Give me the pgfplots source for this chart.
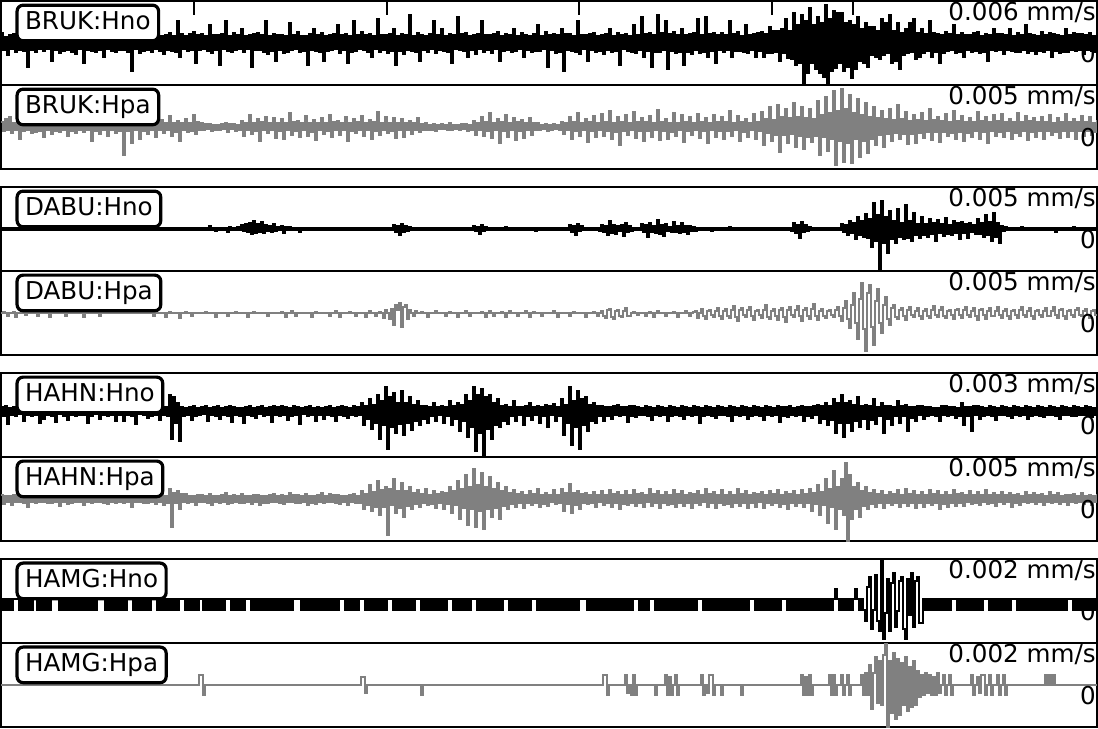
\documentclass[border=0pt]{standalone}
\usepackage{pgfplots}
\pgfplotsset{compat=1.18}
\usepackage{fontspec}
\setmainfont{DejaVu Sans}
\pgfplotsset{
 panel/.style={scale only axis, width=548pt, height=42pt, xmin=0, xmax=1096, ymin=-42, ymax=42,
   xtick=\empty, ytick=\empty, axis line style={line width=1.1pt, black}, clip mode=individual, anchor=north west},
 blk/.style={black, line width=0.75pt, line join=miter, const plot, mark=none},
 gry/.style={gray, line width=0.75pt, line join=miter, const plot, mark=none},
}
\tikzset{
 lbl/.style={anchor=north west, xshift=7.2pt, yshift=-1.2pt, draw=black, line width=1.6pt, rounded corners=3pt,
   fill=white, inner xsep=4pt, inner ysep=2.8pt, text height=9.3pt, text depth=2.9pt, font=\fontsize{12.3}{14}\selectfont},
 amp/.style={anchor=base east, inner sep=0pt, xshift=-0.4pt, yshift=-9.5pt, font=\fontsize{12.3}{14}\selectfont},
}
\begin{document}
\begin{tikzpicture}
% ---------- BRUK:Hno ----------
\begin{axis}[panel, at={(0pt,0pt)}, xtick={193,386,578,771,852}, xticklabels={}, x tick label style={overlay, inner sep=0pt},
  xtick pos=right, tick align=inside, major tick length=7pt, tick style={line width=1.2pt, black}]
\addplot[blk] table[header=false,row sep=\\,x expr=\coordindex*2,y index=0] {
10\\-7\\6\\-12\\8\\-6\\9\\-9\\22\\-7\\7\\-8\\9\\-24\\8\\-7\\6\\-9\\8\\-6\\
12\\-8\\7\\-6\\7\\-18\\9\\-7\\6\\-10\\20\\-8\\7\\-7\\6\\-9\\8\\-11\\7\\-6\\
8\\-20\\11\\-7\\6\\-8\\26\\-9\\7\\-7\\9\\-14\\8\\-6\\10\\-8\\7\\-9\\8\\-7\\
18\\-7\\8\\-9\\9\\-28\\8\\-6\\7\\-10\\14\\-8\\6\\-7\\24\\-9\\8\\-6\\9\\-8\\
7\\-11\\8\\-7\\10\\-8\\7\\-9\\22\\-14\\9\\-6\\7\\-8\\9\\-7\\11\\-20\\8\\-7\\
9\\-6\\7\\-8\\18\\-10\\8\\-7\\8\\-22\\9\\-6\\22\\-8\\7\\-9\\10\\-7\\8\\-6\\
14\\-9\\7\\-6\\8\\-24\\9\\-7\\10\\-7\\8\\-9\\22\\-11\\7\\-8\\9\\-18\\8\\-7\\
8\\-10\\7\\-9\\20\\-7\\8\\-6\\11\\-9\\7\\-8\\7\\-22\\9\\-7\\14\\-8\\8\\-9\\
10\\-18\\7\\-8\\8\\-7\\9\\-6\\18\\-10\\8\\-7\\9\\-20\\7\\-9\\22\\-8\\8\\-6\\
11\\-7\\8\\-9\\9\\-14\\7\\-6\\24\\-9\\8\\-7\\8\\-10\\9\\-8\\14\\-22\\7\\-8\\
9\\-11\\8\\-7\\28\\-8\\7\\-9\\10\\-18\\8\\-7\\7\\-9\\9\\-6\\22\\-10\\8\\-7\\
14\\-8\\7\\-9\\9\\-20\\8\\-6\\26\\-7\\9\\-8\\10\\-14\\7\\-7\\8\\-11\\9\\-6\\
22\\-9\\8\\-7\\8\\-10\\9\\-6\\11\\-18\\7\\-8\\9\\-7\\8\\-9\\14\\-8\\7\\-6\\
10\\-14\\8\\-7\\7\\-9\\9\\-8\\18\\-8\\7\\-6\\11\\-24\\8\\-7\\9\\-10\\8\\-9\\
14\\-28\\9\\-7\\9\\-8\\7\\-9\\22\\-11\\8\\-6\\8\\-18\\9\\-7\\10\\-9\\7\\-8\\
8\\-11\\9\\-7\\14\\-9\\7\\-8\\10\\-22\\8\\-6\\9\\-8\\7\\-9\\18\\-10\\8\\-7\\
26\\-14\\9\\-8\\10\\-24\\8\\-9\\28\\-9\\10\\-7\\22\\-26\\9\\-8\\11\\-10\\8\\-9\\
14\\-22\\8\\-9\\9\\-11\\10\\-7\\24\\-10\\8\\-9\\26\\-14\\9\\-8\\10\\-20\\8\\-7\\
10\\-9\\8\\-7\\22\\-14\\9\\-8\\11\\-8\\7\\-9\\18\\-10\\8\\-7\\9\\-14\\10\\-8\\
11\\-14\\9\\-10\\16\\-10\\12\\-9\\12\\-18\\14\\-10\\24\\-15\\12\\-16\\30\\-22\\18\\-20\\
28\\-40\\22\\-30\\35\\-20\\18\\-26\\26\\-30\\20\\-34\\38\\-42\\24\\-28\\32\\-25\\30\\-20\\
30\\-28\\20\\-24\\22\\-35\\18\\-26\\26\\-18\\14\\-20\\20\\-24\\16\\-12\\16\\-14\\12\\-16\\
24\\-12\\20\\-10\\28\\-20\\12\\-18\\20\\-26\\10\\-12\\14\\-10\\20\\-9\\24\\-16\\10\\-14\\
14\\-10\\9\\-8\\22\\-14\\10\\-9\\9\\-20\\8\\-10\\11\\-8\\9\\-7\\18\\-10\\8\\-9\\
10\\-14\\8\\-7\\8\\-9\\10\\-8\\11\\-10\\7\\-9\\9\\-18\\8\\-7\\14\\-8\\9\\-7\\
9\\-11\\8\\-7\\14\\-8\\7\\-9\\10\\-9\\8\\-7\\18\\-10\\9\\-8\\8\\-11\\7\\-8\\
11\\-9\\8\\-7\\10\\-14\\9\\-8\\8\\-10\\7\\-9\\14\\-9\\8\\-7\\10\\-8\\9\\-7\\
9\\-11\\8\\-7\\10\\-8\\7\\-9\\9\\
};
\node[lbl] at (rel axis cs:0,1) {BRUK:Hno};
\node[amp] at (rel axis cs:1,1) {0.006 mm/s};
\node[amp] at (rel axis cs:1,0.5) {0};
\end{axis}
% ---------- BRUK:Hpa ----------
\begin{axis}[panel, at={(0pt,-42pt)}]
\addplot[gry] table[header=false,row sep=\\,x expr=\coordindex*2,y index=0] {
5\\-4\\8\\-3\\10\\-6\\4\\-3\\4\\-12\\7\\-4\\5\\-3\\9\\-6\\4\\-5\\3\\-4\\
6\\-10\\4\\-3\\4\\-7\\5\\-4\\12\\-5\\4\\-3\\8\\-9\\5\\-4\\3\\-6\\4\\-3\\
8\\-5\\4\\-3\\6\\-14\\5\\-4\\10\\-7\\4\\-3\\5\\-9\\4\\-3\\7\\-6\\4\\-4\\
10\\-28\\5\\-4\\8\\-16\\4\\-3\\6\\-12\\5\\-4\\9\\-7\\4\\-3\\5\\-10\\4\\-3\\
7\\-6\\4\\-3\\11\\-9\\4\\-5\\6\\-14\\4\\-3\\8\\-5\\4\\-4\\12\\-7\\5\\-3\\
4\\-3\\3\\-2\\3\\-4\\2\\-3\\2\\-3\\3\\-2\\4\\-5\\3\\-2\\3\\-4\\2\\-3\\
6\\-9\\4\\-3\\12\\-7\\4\\-4\\8\\-14\\5\\-3\\10\\-6\\4\\-3\\9\\-11\\4\\-4\\
8\\-12\\4\\-3\\14\\-8\\5\\-4\\6\\-10\\4\\-3\\11\\-9\\4\\-5\\7\\-13\\4\\-3\\
9\\-7\\4\\-4\\12\\-10\\5\\-3\\6\\-8\\4\\-3\\10\\-14\\4\\-4\\8\\-6\\5\\-3\\
11\\-9\\4\\-3\\7\\-12\\5\\-4\\15\\-8\\4\\-3\\10\\-6\\4\\-4\\9\\-11\\4\\-3\\
8\\-10\\4\\-3\\6\\-7\\4\\-3\\9\\-5\\3\\-3\\4\\-3\\2\\-3\\3\\-4\\2\\-2\\
3\\-2\\2\\-3\\4\\-3\\2\\-2\\2\\-3\\3\\-2\\3\\-4\\2\\-3\\6\\-8\\4\\-3\\
10\\-9\\5\\-4\\14\\-11\\4\\-3\\8\\-16\\5\\-4\\12\\-10\\4\\-3\\9\\-13\\5\\-4\\
7\\-11\\4\\-3\\9\\-8\\4\\-3\\4\\-3\\2\\-2\\3\\-4\\2\\-3\\3\\-2\\2\\-3\\
5\\-7\\4\\-3\\10\\-12\\5\\-4\\14\\-9\\4\\-3\\8\\-15\\5\\-4\\11\\-10\\4\\-3\\
13\\-9\\5\\-4\\16\\-12\\4\\-5\\10\\-18\\5\\-4\\12\\-8\\4\\-3\\15\\-11\\5\\-4\\
9\\-14\\5\\-4\\11\\-10\\4\\-3\\17\\-13\\5\\-4\\8\\-12\\4\\-5\\14\\-9\\4\\-3\\
12\\-15\\5\\-4\\10\\-8\\4\\-3\\13\\-11\\5\\-4\\9\\-16\\4\\-3\\12\\-10\\5\\-4\\
10\\-12\\5\\-4\\16\\-9\\4\\-3\\11\\-14\\5\\-5\\8\\-10\\4\\-3\\13\\-12\\5\\-4\\
15\\-18\\8\\-6\\20\\-14\\7\\-8\\22\\-25\\10\\-8\\18\\-16\\9\\-7\\24\\-20\\10\\-9\\
20\\-22\\9\\-10\\18\\-15\\8\\-9\\26\\-28\\12\\-10\\30\\-24\\14\\-12\\36\\-38\\16\\-14\\
38\\-35\\18\\-16\\32\\-36\\14\\-12\\28\\-30\\12\\-14\\24\\-26\\10\\-12\\20\\-18\\9\\-8\\
16\\-20\\8\\-7\\18\\-14\\7\\-6\\22\\-12\\8\\-7\\15\\-17\\6\\-7\\12\\-16\\7\\-6\\
14\\-11\\6\\-5\\18\\-13\\7\\-5\\10\\-15\\6\\-5\\13\\-9\\5\\-6\\16\\-12\\6\\-5\\
11\\-14\\5\\-6\\9\\-10\\5\\-4\\15\\-12\\6\\-5\\10\\-16\\5\\-4\\12\\-9\\6\\-5\\
13\\-10\\5\\-4\\8\\-12\\5\\-6\\14\\-9\\5\\-4\\11\\-13\\6\\-5\\9\\-10\\5\\-4\\
10\\-12\\5\\-4\\12\\-8\\4\\-5\\9\\-11\\5\\-4\\13\\-10\\5\\-4\\8\\-12\\5\\-4\\
11\\-9\\5\\-4\\10\\-8\\4\\-5\\7\\
};
\node[lbl] at (rel axis cs:0,1) {BRUK:Hpa};
\node[amp] at (rel axis cs:1,1) {0.005 mm/s};
\node[amp] at (rel axis cs:1,0.5) {0};
\end{axis}
% ---------- DABU:Hno ----------
\begin{axis}[panel, at={(0pt,-93pt)}]
\addplot[blk] table[header=false,row sep=\\,x expr=\coordindex*2,y index=0] {
1\\-1\\1\\-1\\1\\-1\\1\\-1\\1\\-1\\1\\-1\\1\\-1\\1\\-1\\1\\-1\\1\\-1\\
1\\-1\\1\\-1\\1\\-1\\1\\-1\\1\\-1\\1\\-1\\1\\-1\\1\\-1\\1\\-1\\1\\-1\\
1\\-1\\1\\-1\\1\\-1\\1\\-1\\1\\-1\\1\\-1\\1\\-1\\1\\-1\\1\\-1\\1\\-1\\
1\\-1\\1\\-1\\1\\-1\\1\\-1\\1\\-1\\1\\-1\\1\\-1\\1\\-1\\1\\-1\\1\\-1\\
1\\-1\\1\\-1\\1\\-1\\1\\-1\\1\\-1\\1\\-1\\1\\-1\\1\\-1\\1\\-1\\1\\-1\\
1\\-1\\1\\-1\\3\\-1\\1\\-2\\1\\-1\\1\\-1\\1\\-3\\2\\-1\\1\\-1\\2\\-1\\
4\\-2\\5\\-3\\6\\-5\\8\\-4\\5\\-3\\7\\-4\\4\\-2\\3\\-3\\5\\-2\\2\\-1\\
3\\-4\\2\\-1\\2\\-1\\1\\-1\\1\\-3\\1\\-1\\1\\-1\\1\\-1\\1\\-1\\1\\-1\\
1\\-1\\1\\-1\\1\\-1\\1\\-1\\1\\-1\\1\\-1\\1\\-1\\1\\-1\\1\\-1\\1\\-1\\
1\\-1\\1\\-1\\1\\-1\\1\\-1\\1\\-1\\1\\-1\\1\\-1\\1\\-1\\4\\-3\\3\\-6\\
5\\-3\\3\\-2\\2\\-1\\1\\-1\\1\\-1\\1\\-1\\1\\-1\\1\\-1\\1\\-1\\1\\-1\\
1\\-1\\1\\-1\\1\\-1\\1\\-1\\1\\-1\\1\\-1\\1\\-1\\1\\-1\\3\\-2\\2\\-5\\
4\\-2\\2\\-1\\1\\-1\\1\\-1\\1\\-1\\1\\-1\\2\\-1\\1\\-1\\1\\-1\\1\\-1\\
1\\-1\\1\\-1\\1\\-1\\1\\-2\\1\\-1\\1\\-1\\1\\-1\\1\\-1\\1\\-1\\1\\-1\\
1\\-1\\1\\-1\\4\\-3\\3\\-6\\5\\-2\\3\\-1\\1\\-1\\1\\-1\\1\\-1\\1\\-2\\
4\\-3\\3\\-6\\8\\-4\\4\\-5\\3\\-2\\4\\-7\\6\\-3\\3\\-2\\1\\-1\\1\\-1\\
5\\-3\\4\\-8\\6\\-3\\3\\-4\\9\\-5\\4\\-7\\5\\-2\\2\\-3\\7\\-3\\3\\-4\\
6\\-3\\3\\-5\\3\\-2\\2\\-2\\1\\-1\\1\\-1\\1\\-1\\1\\-2\\1\\-1\\1\\-1\\
1\\-1\\1\\-1\\2\\-1\\1\\-1\\1\\-1\\1\\-1\\1\\-1\\1\\-1\\1\\-1\\1\\-1\\
1\\-1\\1\\-1\\1\\-1\\1\\-1\\1\\-1\\1\\-1\\1\\-1\\1\\-2\\6\\-4\\4\\-9\\
7\\-3\\4\\-2\\2\\-1\\1\\-1\\1\\-1\\1\\-1\\1\\-1\\1\\-1\\1\\-1\\1\\-1\\
5\\-3\\4\\-6\\8\\-4\\6\\-10\\12\\-6\\8\\-8\\15\\-9\\10\\-18\\26\\-12\\14\\-42\\
28\\-14\\12\\-24\\18\\-10\\8\\-14\\20\\-8\\6\\-10\\24\\-9\\8\\-12\\16\\-6\\5\\-9\\
12\\-6\\5\\-8\\10\\-5\\6\\-12\\9\\-4\\5\\-7\\11\\-5\\4\\-6\\8\\-4\\6\\-10\\
7\\-4\\5\\-9\\6\\-3\\4\\-5\\10\\-5\\6\\-8\\14\\-6\\7\\-12\\16\\-8\\6\\-14\\
3\\-2\\2\\-1\\1\\-1\\1\\-1\\1\\-1\\2\\-1\\1\\-1\\1\\-1\\1\\-1\\1\\-1\\
1\\-1\\1\\-1\\1\\-1\\1\\-3\\1\\-1\\1\\-1\\1\\-1\\1\\-1\\2\\-1\\1\\-1\\
1\\-1\\1\\-1\\1\\-1\\1\\-1\\1\\
};
\node[lbl] at (rel axis cs:0,1) {DABU:Hno};
\node[amp] at (rel axis cs:1,1) {0.005 mm/s};
\node[amp] at (rel axis cs:1,0.5) {0};
\end{axis}
% ---------- DABU:Hpa ----------
\begin{axis}[panel, at={(0pt,-135pt)}]
\addplot[gry] table[header=false,row sep=\\,x expr=\coordindex*2,y index=0] {
0\\1\\0\\-3\\0\\0\\1\\-4\\0\\0\\1\\0\\-2\\0\\0\\0\\1\\0\\-3\\0\\
0\\0\\1\\0\\-4\\0\\0\\0\\0\\1\\0\\0\\-3\\0\\0\\0\\0\\1\\0\\0\\
0\\-4\\0\\0\\1\\0\\0\\0\\0\\-3\\0\\0\\0\\1\\0\\0\\0\\0\\0\\0\\
0\\0\\0\\0\\0\\0\\0\\0\\0\\0\\0\\0\\0\\0\\0\\0\\-3\\0\\0\\0\\
0\\0\\-4\\0\\1\\0\\0\\0\\0\\-5\\0\\0\\1\\0\\0\\-3\\0\\0\\0\\0\\
0\\0\\1\\0\\0\\0\\0\\-4\\0\\0\\0\\0\\0\\-3\\0\\0\\0\\1\\0\\0\\
0\\0\\0\\-4\\0\\0\\1\\0\\0\\0\\0\\0\\0\\-3\\0\\0\\0\\0\\0\\0\\
1\\0\\-4\\0\\0\\2\\0\\-3\\0\\0\\0\\0\\0\\0\\0\\-4\\0\\1\\0\\0\\
0\\0\\0\\0\\-3\\0\\0\\2\\0\\-4\\0\\0\\0\\0\\1\\0\\0\\-3\\0\\0\\
0\\0\\-4\\0\\2\\0\\0\\-3\\0\\1\\0\\-5\\3\\0\\-6\\4\\-12\\8\\3\\10\\
-14\\6\\8\\-6\\3\\0\\-3\\2\\0\\0\\1\\0\\0\\-4\\0\\0\\0\\2\\0\\0\\
0\\0\\-3\\0\\1\\0\\0\\0\\-4\\0\\0\\0\\2\\0\\-3\\0\\0\\0\\0\\0\\
1\\0\\-4\\0\\2\\0\\-3\\0\\0\\0\\1\\0\\-4\\0\\2\\0\\0\\0\\-3\\0\\
0\\0\\2\\0\\-4\\0\\1\\0\\0\\0\\-3\\0\\0\\0\\0\\0\\2\\0\\-4\\0\\
0\\0\\0\\0\\-3\\0\\1\\0\\0\\0\\0\\0\\-4\\0\\0\\0\\1\\0\\-3\\0\\
2\\-3\\-5\\3\\4\\-4\\-6\\2\\3\\-3\\-4\\2\\5\\-3\\-3\\0\\1\\0\\-2\\0\\
0\\0\\-3\\0\\1\\0\\-4\\0\\2\\0\\0\\0\\-3\\0\\0\\0\\1\\0\\-4\\0\\
0\\0\\2\\0\\-3\\0\\1\\2\\-5\\0\\4\\-3\\-6\\2\\3\\-2\\-4\\2\\5\\-3\\
-6\\2\\4\\-3\\-5\\3\\7\\-4\\-8\\3\\5\\-2\\-4\\3\\6\\-3\\-7\\2\\3\\-2\\
-5\\3\\8\\-4\\-6\\2\\4\\-3\\-7\\3\\5\\-4\\-9\\3\\6\\-2\\-4\\3\\7\\-3\\
-8\\3\\5\\-3\\-6\\4\\9\\-3\\-7\\2\\4\\-3\\-5\\2\\3\\-2\\-4\\3\\6\\-3\\
-8\\5\\12\\-6\\-15\\8\\20\\-10\\-26\\14\\30\\-16\\-38\\20\\28\\-14\\-32\\12\\24\\-10\\
-20\\8\\16\\-6\\-12\\5\\8\\-4\\-6\\3\\5\\-3\\-7\\3\\6\\-2\\-4\\2\\5\\-3\\
-6\\2\\4\\-3\\-5\\3\\7\\-2\\-4\\3\\6\\-3\\-5\\2\\3\\-2\\-6\\3\\4\\-2\\
-5\\3\\6\\-2\\-4\\2\\5\\-3\\-7\\3\\4\\-2\\-6\\2\\5\\-3\\-3\\2\\6\\-2\\
-5\\2\\4\\-3\\-6\\2\\3\\-2\\-5\\3\\6\\-2\\-4\\2\\5\\-3\\-6\\2\\3\\-2\\
-4\\2\\5\\-3\\-3\\2\\6\\-2\\-5\\3\\4\\-3\\-6\\2\\3\\-2\\-4\\3\\5\\-2\\
-3\\2\\4\\-2\\-5\\2\\3\\-2\\-2\\
};
\node[lbl] at (rel axis cs:0,1) {DABU:Hpa};
\node[amp] at (rel axis cs:1,1) {0.005 mm/s};
\node[amp] at (rel axis cs:1,0.5) {0};
\end{axis}
% ---------- HAHN:Hno ----------
\begin{axis}[panel, at={(0pt,-186pt)}]
\addplot[blk] table[header=false,row sep=\\,x expr=\coordindex*2,y index=0] {
8\\-1\\9\\-9\\7\\0\\8\\-1\\9\\1\\8\\-6\\7\\0\\9\\-1\\8\\0\\7\\-8\\
9\\-4\\8\\0\\7\\-1\\8\\-7\\9\\1\\8\\-1\\7\\-5\\9\\0\\8\\-1\\7\\0\\
7\\0\\9\\-8\\8\\-1\\7\\1\\8\\-4\\9\\0\\7\\-1\\9\\0\\8\\-6\\7\\0\\
8\\-6\\7\\0\\9\\-1\\8\\-9\\7\\1\\8\\0\\9\\-3\\7\\-1\\8\\0\\9\\-5\\
9\\0\\8\\-1\\20\\-24\\18\\-8\\12\\-26\\8\\-1\\7\\0\\8\\-5\\9\\-1\\7\\0\\
8\\1\\9\\-6\\7\\0\\8\\-1\\9\\-4\\7\\0\\8\\-1\\9\\-7\\8\\0\\7\\-1\\
7\\-8\\8\\0\\9\\-1\\7\\-3\\8\\1\\9\\-1\\7\\0\\8\\-7\\9\\0\\8\\-1\\
9\\0\\8\\-5\\7\\-1\\9\\0\\8\\-9\\7\\1\\8\\-1\\9\\0\\7\\-6\\8\\0\\
7\\-4\\8\\0\\9\\-1\\7\\-6\\8\\0\\9\\-1\\8\\-3\\7\\0\\9\\-1\\8\\0\\
12\\-10\\9\\-4\\16\\-14\\10\\-8\\20\\-24\\14\\-10\\28\\-34\\18\\-12\\22\\-18\\12\\-9\\
24\\-20\\12\\-8\\18\\-15\\10\\-6\\14\\-10\\9\\-4\\9\\-8\\8\\-1\\12\\-6\\8\\0\\
9\\-8\\8\\-1\\14\\-10\\9\\-4\\12\\-16\\10\\-6\\20\\-22\\14\\-12\\28\\-36\\20\\-18\\
26\\-41\\18\\-14\\20\\-24\\12\\-10\\16\\-12\\9\\-6\\10\\-9\\8\\-1\\14\\-6\\8\\0\\
8\\-10\\9\\-1\\12\\-5\\8\\0\\9\\-8\\8\\-1\\10\\-12\\9\\0\\11\\-6\\8\\-1\\
16\\-20\\10\\-8\\28\\-30\\14\\-12\\24\\-34\\16\\-10\\18\\-16\\10\\-6\\12\\-8\\9\\-1\\
9\\-6\\8\\-1\\8\\-4\\9\\0\\10\\-1\\8\\0\\8\\-7\\9\\-1\\9\\-2\\8\\0\\
7\\0\\9\\-1\\8\\-5\\7\\0\\9\\-1\\8\\0\\7\\-6\\9\\-1\\8\\0\\7\\-1\\
9\\-4\\8\\0\\7\\-1\\9\\0\\8\\-8\\7\\-1\\9\\0\\8\\-1\\7\\-3\\9\\0\\
8\\0\\7\\-1\\9\\-6\\8\\0\\7\\-1\\9\\0\\8\\-4\\7\\-1\\9\\0\\8\\-1\\
7\\-5\\9\\0\\8\\-1\\7\\0\\9\\-7\\8\\-1\\8\\-2\\9\\0\\7\\-1\\8\\0\\
9\\-6\\8\\-1\\8\\-3\\9\\0\\10\\-8\\9\\-4\\12\\-10\\9\\-5\\16\\-18\\12\\-8\\
20\\-22\\12\\-8\\14\\-16\\10\\-6\\18\\-12\\9\\-4\\10\\-14\\9\\-5\\16\\-9\\8\\-1\\
12\\-18\\9\\-4\\9\\-10\\8\\-1\\14\\-8\\9\\-1\\10\\-16\\8\\-3\\8\\-6\\9\\0\\
9\\-4\\8\\-1\\8\\0\\7\\-1\\7\\-6\\9\\0\\9\\-1\\8\\0\\8\\-3\\7\\-1\\
12\\-10\\8\\-1\\8\\-16\\9\\0\\9\\-4\\8\\-1\\7\\0\\9\\-1\\8\\-5\\7\\0\\
9\\0\\8\\-1\\7\\-3\\9\\0\\8\\-1\\7\\0\\9\\-4\\8\\-1\\7\\0\\9\\-1\\
8\\-2\\7\\0\\9\\0\\8\\-1\\7\\-4\\9\\0\\8\\0\\7\\-1\\9\\-1\\8\\0\\
7\\0\\9\\-1\\8\\-2\\7\\0\\9\\
};
\node[lbl] at (rel axis cs:0,1) {HAHN:Hno};
\node[amp] at (rel axis cs:1,1) {0.003 mm/s};
\node[amp] at (rel axis cs:1,0.5) {0};
\end{axis}
% ---------- HAHN:Hpa ----------
\begin{axis}[panel, at={(0pt,-228pt)}]
\addplot[gry] table[header=false,row sep=\\,x expr=\coordindex*2,y index=0] {
4\\-5\\3\\-3\\3\\-6\\4\\-3\\5\\-3\\3\\-4\\4\\-8\\3\\-3\\3\\-4\\4\\-3\\
5\\-3\\4\\-4\\6\\-4\\3\\-3\\3\\-7\\4\\-3\\4\\-5\\3\\-4\\8\\-3\\4\\-3\\
4\\-6\\3\\-3\\3\\-4\\4\\-3\\5\\-3\\3\\-4\\6\\-5\\4\\-3\\3\\-4\\4\\-3\\
5\\-4\\3\\-3\\3\\-8\\4\\-3\\4\\-3\\3\\-4\\6\\-4\\3\\-3\\3\\-5\\4\\-3\\
4\\-6\\3\\-4\\10\\-28\\6\\-4\\8\\-10\\5\\-3\\5\\-4\\3\\-3\\3\\-6\\4\\-3\\
4\\-3\\3\\-4\\5\\-6\\3\\-3\\3\\-4\\4\\-3\\6\\-5\\3\\-4\\4\\-3\\3\\-4\\
5\\-4\\3\\-3\\3\\-5\\4\\-3\\4\\-6\\3\\-4\\3\\-4\\4\\-3\\5\\-3\\3\\-4\\
4\\-5\\3\\-3\\6\\-3\\4\\-4\\4\\-4\\3\\-3\\5\\-6\\3\\-4\\3\\-5\\4\\-3\\
6\\-4\\3\\-3\\5\\-3\\4\\-4\\4\\-5\\3\\-3\\3\\-6\\4\\-3\\5\\-4\\3\\-4\\
8\\-10\\5\\-6\\14\\-12\\7\\-8\\18\\-16\\9\\-8\\12\\-36\\10\\-6\\20\\-14\\8\\-9\\
16\\-18\\8\\-7\\12\\-10\\6\\-5\\9\\-8\\5\\-4\\10\\-6\\4\\-5\\8\\-9\\5\\-4\\
7\\-10\\6\\-5\\12\\-14\\8\\-6\\18\\-20\\10\\-9\\24\\-26\\12\\-10\\30\\-28\\14\\-12\\
26\\-30\\12\\-10\\22\\-18\\10\\-9\\16\\-20\\8\\-7\\12\\-10\\6\\-5\\9\\-8\\5\\-4\\
7\\-9\\4\\-4\\8\\-6\\5\\-4\\10\\-8\\4\\-5\\6\\-7\\4\\-3\\9\\-5\\4\\-4\\
10\\-12\\6\\-5\\15\\-14\\6\\-6\\8\\-10\\5\\-4\\6\\-5\\4\\-4\\7\\-8\\4\\-3\\
8\\-6\\4\\-4\\9\\-8\\5\\-4\\7\\-10\\4\\-5\\8\\-6\\4\\-4\\9\\-7\\5\\-4\\
6\\-8\\4\\-3\\10\\-7\\5\\-4\\8\\-9\\4\\-4\\7\\-6\\4\\-5\\9\\-8\\5\\-4\\
8\\-7\\4\\-4\\6\\-9\\5\\-4\\8\\-6\\4\\-3\\10\\-8\\5\\-4\\7\\-9\\4\\-4\\
9\\-6\\4\\-5\\7\\-8\\4\\-4\\10\\-7\\5\\-4\\8\\-9\\4\\-4\\6\\-8\\5\\-3\\
7\\-9\\4\\-4\\8\\-6\\5\\-4\\9\\-8\\4\\-5\\7\\-10\\5\\-4\\8\\-7\\4\\-4\\
9\\-8\\5\\-4\\10\\-12\\6\\-5\\14\\-16\\7\\-6\\20\\-24\\10\\-8\\28\\-30\\12\\-10\\
20\\-16\\36\\-42\\24\\-20\\12\\-10\\16\\-18\\8\\-7\\12\\-10\\6\\-5\\9\\-8\\5\\-4\\
8\\-9\\4\\-4\\7\\-6\\5\\-4\\9\\-8\\4\\-4\\10\\-7\\5\\-4\\8\\-9\\4\\-4\\
7\\-8\\4\\-4\\9\\-6\\5\\-4\\8\\-10\\4\\-5\\7\\-8\\4\\-4\\9\\-7\\5\\-4\\
6\\-7\\4\\-3\\8\\-5\\4\\-4\\7\\-6\\4\\-3\\9\\-5\\4\\-4\\6\\-7\\4\\-3\\
7\\-5\\4\\-3\\6\\-8\\4\\-4\\5\\-6\\3\\-3\\7\\-4\\4\\-3\\6\\-5\\4\\-3\\
5\\-6\\3\\-3\\7\\-4\\4\\-3\\6\\-5\\3\\-3\\4\\-6\\4\\-3\\5\\-4\\3\\-3\\
6\\-5\\3\\-3\\4\\-6\\3\\-3\\5\\
};
\node[lbl] at (rel axis cs:0,1) {HAHN:Hpa};
\node[amp] at (rel axis cs:1,1) {0.005 mm/s};
\node[amp] at (rel axis cs:1,0.5) {0};
\end{axis}
% ---------- HAMG:Hno ----------
\begin{axis}[panel, at={(0pt,-279pt)}]
\addplot[blk] table[header=false,row sep=\\,x expr=\coordindex*2,y index=0] {
2\\-9\\2\\-9\\2\\-9\\2\\2\\2\\-9\\2\\-9\\2\\-9\\2\\-9\\2\\2\\-9\\2\\
-9\\2\\-9\\2\\-9\\2\\2\\2\\2\\-9\\2\\-9\\2\\-9\\2\\-9\\2\\-9\\2\\-9\\
2\\-9\\2\\-9\\2\\-9\\2\\-9\\2\\2\\2\\2\\-9\\2\\-9\\2\\-9\\2\\-9\\2\\
-9\\2\\-9\\2\\2\\2\\-9\\2\\-9\\2\\-9\\2\\-9\\2\\-9\\2\\2\\2\\-9\\2\\
-9\\2\\-9\\2\\-9\\2\\-9\\2\\-9\\2\\2\\2\\-9\\2\\-9\\2\\-9\\2\\-9\\2\\
2\\-9\\2\\-9\\2\\-9\\2\\-9\\2\\-9\\2\\-9\\2\\2\\2\\-9\\2\\-9\\2\\-9\\
2\\-9\\2\\2\\2\\-9\\2\\-9\\2\\-9\\2\\-9\\2\\-9\\2\\-9\\2\\-9\\2\\-9\\
2\\-9\\2\\-9\\2\\-9\\2\\2\\2\\2\\-9\\2\\-9\\2\\-9\\2\\-9\\2\\-9\\2\\
-9\\2\\-9\\2\\-9\\2\\-9\\2\\-9\\2\\2\\2\\-9\\2\\-9\\2\\-9\\2\\-9\\2\\
2\\2\\-9\\2\\-9\\2\\-9\\2\\-9\\2\\-9\\2\\-9\\2\\2\\2\\-9\\2\\-9\\2\\
-9\\2\\-9\\2\\-9\\2\\-9\\2\\2\\2\\-9\\2\\-9\\2\\-9\\2\\-9\\2\\-9\\2\\
-9\\2\\-9\\2\\2\\2\\-9\\2\\-9\\2\\-9\\2\\-9\\2\\-9\\2\\2\\2\\-9\\2\\
-9\\2\\-9\\2\\-9\\2\\-9\\2\\-9\\2\\-9\\2\\2\\2\\-9\\2\\-9\\2\\-9\\2\\
-9\\2\\-9\\2\\-9\\2\\2\\2\\-9\\2\\-9\\2\\-9\\2\\-9\\2\\-9\\2\\-9\\2\\
-9\\2\\-9\\2\\-9\\2\\-9\\2\\-9\\2\\2\\2\\2\\-9\\2\\-9\\2\\-9\\2\\-9\\
2\\-9\\2\\-9\\2\\-9\\2\\-9\\2\\-9\\2\\-9\\2\\-9\\2\\-9\\2\\2\\2\\-9\\
2\\-9\\2\\-9\\2\\2\\2\\-9\\2\\-9\\2\\-9\\2\\-9\\2\\-9\\2\\-9\\2\\-9\\
2\\-9\\2\\-9\\2\\-9\\2\\-9\\2\\2\\2\\-9\\2\\-9\\2\\-9\\2\\-9\\2\\-9\\
2\\-9\\2\\-9\\2\\-9\\2\\-9\\2\\-9\\2\\-9\\2\\-9\\2\\2\\2\\-9\\2\\-9\\
2\\-9\\2\\-9\\2\\-9\\2\\-9\\2\\-9\\2\\2\\2\\-9\\2\\-9\\2\\-9\\2\\-9\\
2\\-9\\2\\-9\\2\\-9\\2\\-9\\2\\-9\\2\\-9\\2\\-9\\2\\-9\\2\\12\\2\\-9\\
2\\-9\\2\\-9\\2\\-9\\2\\12\\2\\-9\\2\\-9\\-20\\14\\24\\-28\\-9\\26\\-20\\-30\\
42\\-38\\-12\\22\\-30\\18\\28\\-26\\-10\\20\\24\\-28\\-38\\22\\-14\\28\\-26\\20\\24\\-22\\
-22\\2\\-9\\2\\-9\\2\\-9\\2\\-9\\2\\-9\\2\\-9\\2\\-9\\2\\2\\2\\-9\\2\\
-9\\2\\-9\\2\\-9\\2\\-9\\2\\-9\\2\\-9\\2\\2\\2\\-9\\2\\-9\\2\\-9\\2\\
-9\\2\\-9\\2\\-9\\2\\2\\2\\-9\\2\\-9\\2\\-9\\2\\-9\\2\\-9\\2\\-9\\2\\
-9\\2\\-9\\2\\-9\\2\\-9\\2\\-9\\2\\-9\\2\\-9\\2\\2\\2\\-9\\2\\-9\\2\\
-9\\2\\-9\\2\\-9\\2\\-9\\2\\2\\
};
\node[lbl] at (rel axis cs:0,1) {HAMG:Hno};
\node[amp] at (rel axis cs:1,1) {0.002 mm/s};
\node[amp] at (rel axis cs:1,0.5) {0};
\end{axis}
% ---------- HAMG:Hpa ----------
\begin{axis}[panel, at={(0pt,-321pt)}]
\addplot[gry] table[header=false,row sep=\\,x expr=\coordindex*2,y index=0] {
0\\0\\0\\0\\0\\0\\0\\0\\0\\0\\0\\0\\0\\0\\0\\0\\0\\0\\0\\0\\
0\\0\\0\\0\\0\\0\\0\\0\\0\\0\\0\\0\\0\\0\\0\\0\\0\\0\\0\\0\\
0\\0\\0\\0\\0\\0\\0\\0\\0\\0\\0\\0\\0\\0\\0\\0\\0\\0\\0\\0\\
0\\0\\0\\0\\0\\0\\0\\0\\0\\0\\0\\0\\0\\0\\0\\0\\0\\0\\0\\0\\
0\\0\\0\\0\\0\\0\\0\\0\\0\\0\\0\\0\\0\\0\\0\\0\\0\\0\\0\\10\\
10\\-10\\0\\0\\0\\0\\0\\0\\0\\0\\0\\0\\0\\0\\0\\0\\0\\0\\0\\0\\
0\\0\\0\\0\\0\\0\\0\\0\\0\\0\\0\\0\\0\\0\\0\\0\\0\\0\\0\\0\\
0\\0\\0\\0\\0\\0\\0\\0\\0\\0\\0\\0\\0\\0\\0\\0\\0\\0\\0\\0\\
0\\0\\0\\0\\0\\0\\0\\0\\0\\0\\0\\0\\0\\0\\0\\0\\0\\0\\0\\0\\
8\\8\\-8\\0\\0\\0\\0\\0\\0\\0\\0\\0\\0\\0\\0\\0\\0\\0\\0\\0\\
0\\0\\0\\0\\0\\0\\0\\0\\0\\0\\-10\\0\\0\\0\\0\\0\\0\\0\\0\\0\\
0\\0\\0\\0\\0\\0\\0\\0\\0\\0\\0\\0\\0\\0\\0\\0\\0\\0\\0\\0\\
0\\0\\0\\0\\0\\0\\0\\0\\0\\0\\0\\0\\0\\0\\0\\0\\0\\0\\0\\0\\
0\\0\\0\\0\\0\\0\\0\\0\\0\\0\\0\\0\\0\\0\\0\\0\\0\\0\\0\\0\\
0\\0\\0\\0\\0\\0\\0\\0\\0\\0\\0\\0\\0\\0\\0\\0\\0\\0\\0\\0\\
0\\10\\10\\-10\\0\\0\\0\\0\\0\\0\\0\\0\\10\\-8\\0\\-10\\10\\-10\\0\\0\\
0\\0\\0\\0\\0\\0\\0\\-10\\0\\0\\0\\0\\10\\-10\\8\\-10\\0\\10\\-10\\0\\
0\\0\\0\\0\\0\\0\\0\\0\\0\\0\\10\\-10\\0\\-8\\10\\10\\-10\\0\\0\\0\\
-10\\0\\0\\0\\0\\0\\0\\0\\0\\0\\-10\\0\\0\\0\\0\\0\\0\\0\\0\\0\\
0\\0\\0\\0\\0\\0\\0\\0\\0\\0\\0\\0\\0\\0\\0\\0\\0\\0\\0\\0\\
10\\-10\\8\\-10\\10\\-10\\0\\0\\0\\0\\0\\0\\0\\0\\10\\-10\\10\\-10\\0\\0\\
10\\-10\\0\\10\\-10\\0\\0\\0\\0\\0\\10\\-10\\12\\-10\\20\\-24\\12\\28\\-18\\24\\
-20\\30\\42\\-42\\24\\-28\\32\\-34\\26\\-30\\22\\-20\\28\\-26\\18\\-22\\24\\-20\\14\\-12\\
10\\-10\\12\\-8\\10\\-10\\8\\-10\\12\\-8\\0\\10\\-10\\0\\10\\-10\\0\\0\\0\\0\\
0\\0\\0\\0\\0\\10\\-10\\0\\8\\-8\\10\\10\\-10\\0\\10\\-10\\0\\0\\10\\-10\\
0\\10\\-10\\0\\0\\0\\0\\0\\0\\0\\0\\0\\0\\0\\0\\0\\0\\0\\0\\0\\
0\\0\\10\\0\\10\\0\\10\\0\\0\\0\\0\\0\\0\\0\\0\\0\\0\\0\\0\\0\\
0\\0\\0\\0\\0\\0\\0\\0\\0\\
};
\node[lbl] at (rel axis cs:0,1) {HAMG:Hpa};
\node[amp] at (rel axis cs:1,1) {0.002 mm/s};
\node[amp] at (rel axis cs:1,0.5) {0};
\end{axis}
\end{tikzpicture}
\end{document}
